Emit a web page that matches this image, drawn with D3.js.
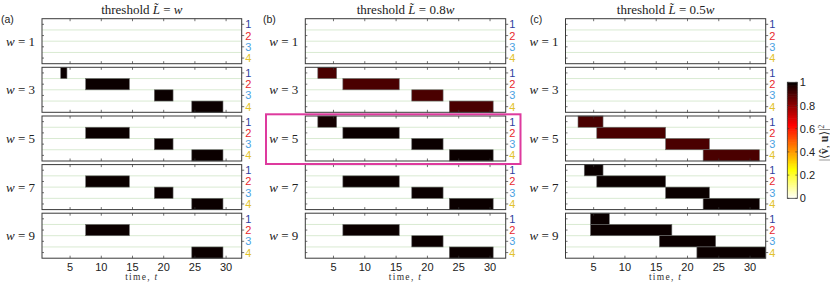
<!DOCTYPE html>
<html><head><meta charset="utf-8">
<script src="https://cdn.jsdelivr.net/npm/d3@7"></script>
<style>body{margin:0;background:#fff}svg{display:block}</style>
</head><body><svg id="c" width="830" height="283"></svg>
<script>
// ---- data ----
const timeTicks = [5, 10, 15, 20, 25, 30];
const wValues = [1, 3, 5, 7, 9];
const states = [1, 2, 3, 4];
const panelLabels = ["(a)", "(b)", "(c)"];
const thresholdFactors = ["", "0.8", "0.5"];
const colorbarTicks = [0, 0.2, 0.4, 0.6, 0.8, 1];
// [w, state, tStart, tEnd, overlap]
const segmentsA = [[3,1,4,4,1],[3,2,8,14,1],[3,3,19,21,1],[3,4,25,29,1],
  [5,2,8,14,1],[5,3,19,21,1],[5,4,25,29,1],
  [7,2,8,14,1],[7,3,19,21,1],[7,4,25,29,1],
  [9,2,8,14,1],[9,4,25,29,1]];
const segmentsB = [[3,1,3,5,0.9],[3,2,7,15,0.9],[3,3,18,22,0.9],[3,4,24,30,0.9],
  [5,1,3,5,0.98],[5,2,7,15,1],[5,3,18,22,1],[5,4,24,30,1],
  [7,2,7,15,1],[7,3,18,22,1],[7,4,24,30,1],
  [9,2,7,15,1],[9,3,18,22,1],[9,4,24,30,1]];
const segmentsC = [[5,1,3,6,0.9],[5,2,6,16,0.9],[5,3,17,23,0.9],[5,4,23,31,0.9],
  [7,1,4,6,1],[7,2,6,16,1],[7,3,17,23,1],[7,4,23,31,1],
  [9,1,5,7,1],[9,2,5,17,1],[9,3,16,24,1],[9,4,22,32,1]];
const allSegments = [segmentsA, segmentsB, segmentsC];
const stateColors = ["#2f3f9e", "#e8282e", "#4aa2e2", "#e2c22c"];

// ---- layout ----
const svg = d3.select("#c");
const panelX = [[42, 241.7], [305.3, 505.7], [565.5, 765.7]];
const rowTop = [18.7, 67.3, 116, 164.6, 213.2];
const boxH = 45;
const serif = "'Liberation Serif', 'DejaVu Serif', serif";
const sans = "'Liberation Sans', Arial, sans-serif";

// reversed "hot" colormap, 64 levels
function hotRev(v) {
  const idx = Math.round((1 - v) * 63) + 1;
  const r = Math.min(1, idx / 24), g = Math.max(0, Math.min(1, (idx - 24) / 24)), b = Math.max(0, Math.min(1, (idx - 48) / 16));
  return d3.rgb(r * 255, g * 255, b * 255).formatHex();
}

panelX.forEach(([x0, x1], p) => {
  const x = d3.scaleLinear().domain([0.5, 32.5]).range([x0, x1]);
  const cx = (x0 + x1) / 2;
  // title
  const t = svg.append("text").attr("x", cx).attr("y", 14).attr("text-anchor", "middle")
    .attr("font-family", serif).attr("font-size", 13).attr("fill", "#222");
  t.append("tspan").text("threshold  ");
  t.append("tspan").attr("font-style", "italic").text("L\u0303");
  t.append("tspan").text(" = " + thresholdFactors[p]);
  t.append("tspan").attr("font-style", "italic").text("w");
  // panel label
  svg.append("text").attr("x", [1, 263, 530][p]).attr("y", 22.5)
    .attr("font-family", sans).attr("font-size", 10.5).attr("fill", "#222").text(panelLabels[p]);

  wValues.forEach((w, r) => {
    const top = rowTop[r];
    const y = d3.scaleBand().domain(states).range([top, top + boxH]).padding(0);
    const g = svg.append("g");
    // grid lines between states
    states.slice(1).forEach(s => {
      g.append("line").attr("x1", x0).attr("x2", x1).attr("y1", y(s)).attr("y2", y(s))
        .attr("stroke", "#d9ead2").attr("stroke-width", 1);
    });
    // bars
    allSegments[p].filter(d => d[0] === w).forEach(d => {
      g.append("rect").attr("x", x(d[2] - 0.5)).attr("width", x(d[3] + 0.5) - x(d[2] - 0.5))
        .attr("y", y(d[1])).attr("height", y.bandwidth())
        .attr("fill", hotRev(d[4])).attr("stroke", "#6a6a6a").attr("stroke-width", 0.6);
    });
    // ticks
    timeTicks.forEach(tv => {
      g.append("line").attr("x1", x(tv)).attr("x2", x(tv)).attr("y1", top).attr("y2", top + 2.5).attr("stroke", "#333").attr("stroke-width", 0.7);
      g.append("line").attr("x1", x(tv)).attr("x2", x(tv)).attr("y1", top + boxH).attr("y2", top + boxH - 2.5).attr("stroke", "#333").attr("stroke-width", 0.7);
    });
    states.forEach((s, i) => {
      const yc = y(s) + y.bandwidth() / 2;
      g.append("line").attr("x1", x0).attr("x2", x0 + 2).attr("y1", yc).attr("y2", yc).attr("stroke", "#333").attr("stroke-width", 0.7);
      g.append("line").attr("x1", x1).attr("x2", x1 + 2.5).attr("y1", yc).attr("y2", yc).attr("stroke", "#333").attr("stroke-width", 0.7);
      g.append("text").attr("x", x1 + 3.5).attr("y", yc + 4).attr("font-family", sans).attr("font-size", 11)
        .attr("fill", stateColors[i]).text(s);
    });
    // box
    g.append("rect").attr("x", x0).attr("y", top).attr("width", x1 - x0).attr("height", boxH)
      .attr("fill", "none").attr("stroke", "#3a3a3a").attr("stroke-width", 1);
    // w label
    const wl = svg.append("text").attr("x", x0 - 7).attr("y", top + boxH / 2 + 4.5).attr("text-anchor", "end")
      .attr("font-family", serif).attr("font-size", 13).attr("fill", "#222");
    wl.append("tspan").attr("font-style", "italic").text("w");
    wl.append("tspan").text(" = " + w);
  });
  // x axis labels
  const bottom = rowTop[4] + boxH;
  timeTicks.forEach(tv => {
    svg.append("text").attr("x", x(tv)).attr("y", bottom + 12.5).attr("text-anchor", "middle")
      .attr("font-family", sans).attr("font-size", 11).attr("fill", "#222").text(tv);
  });
  const xl = svg.append("text").attr("x", cx).attr("y", bottom + 21.5).attr("text-anchor", "middle")
    .attr("font-family", serif).attr("font-size", 9.5).attr("letter-spacing", 1.3).attr("fill", "#333");
  xl.append("tspan").text("time, ");
  xl.append("tspan").attr("font-style", "italic").text("t");
});

// highlight box
svg.append("rect").attr("x", 266).attr("y", 114.3).attr("width", 254.5).attr("height", 49.7)
  .attr("fill", "none").attr("stroke", "#de3a9e").attr("stroke-width", 2);

// colorbar
const cbX0 = 787.3, cbX1 = 797.3;
const cy = d3.scaleLinear().domain([0, 1]).range([198.3, 82.3]);
const levels = d3.range(64).map(i => i / 63);
svg.append("g").selectAll("rect").data(levels).join("rect")
  .attr("x", cbX0).attr("width", cbX1 - cbX0)
  .attr("y", d => cy(Math.min(1, d + 0.5 / 63)))
  .attr("height", d => Math.abs(cy(0) - cy(1)) / 63 + 0.6)
  .attr("fill", d => hotRev(d));
svg.append("rect").attr("x", cbX0).attr("y", cy(1)).attr("width", cbX1 - cbX0).attr("height", cy(0) - cy(1))
  .attr("fill", "none").attr("stroke", "#3a3a3a").attr("stroke-width", 0.8);
colorbarTicks.forEach(v => {
  svg.append("line").attr("x1", cbX1).attr("x2", cbX1 - 2).attr("y1", cy(v)).attr("y2", cy(v)).attr("stroke", "#333").attr("stroke-width", 0.6);
  svg.append("line").attr("x1", cbX0).attr("x2", cbX0 + 2).attr("y1", cy(v)).attr("y2", cy(v)).attr("stroke", "#333").attr("stroke-width", 0.6);
  svg.append("text").attr("x", cbX1 + 2.5).attr("y", cy(v) + 4).attr("font-family", sans).attr("font-size", 11)
    .attr("fill", "#222").text(v === 0 || v === 1 ? v : v.toFixed(1));
});
const cl = svg.append("text").attr("transform", "translate(827.5,143) rotate(-90)").attr("text-anchor", "middle")
  .attr("font-family", serif).attr("font-size", 12).attr("fill", "#333");
cl.append("tspan").text("|\u27E8");
cl.append("tspan").attr("font-weight", "bold").text("v\u0302");
cl.append("tspan").text(", ");
cl.append("tspan").attr("font-weight", "bold").text("u");
cl.append("tspan").text("\u27E9|");
cl.append("tspan").attr("font-size", 7.5).attr("dy", -3.5).text("2");
</script></body></html>
